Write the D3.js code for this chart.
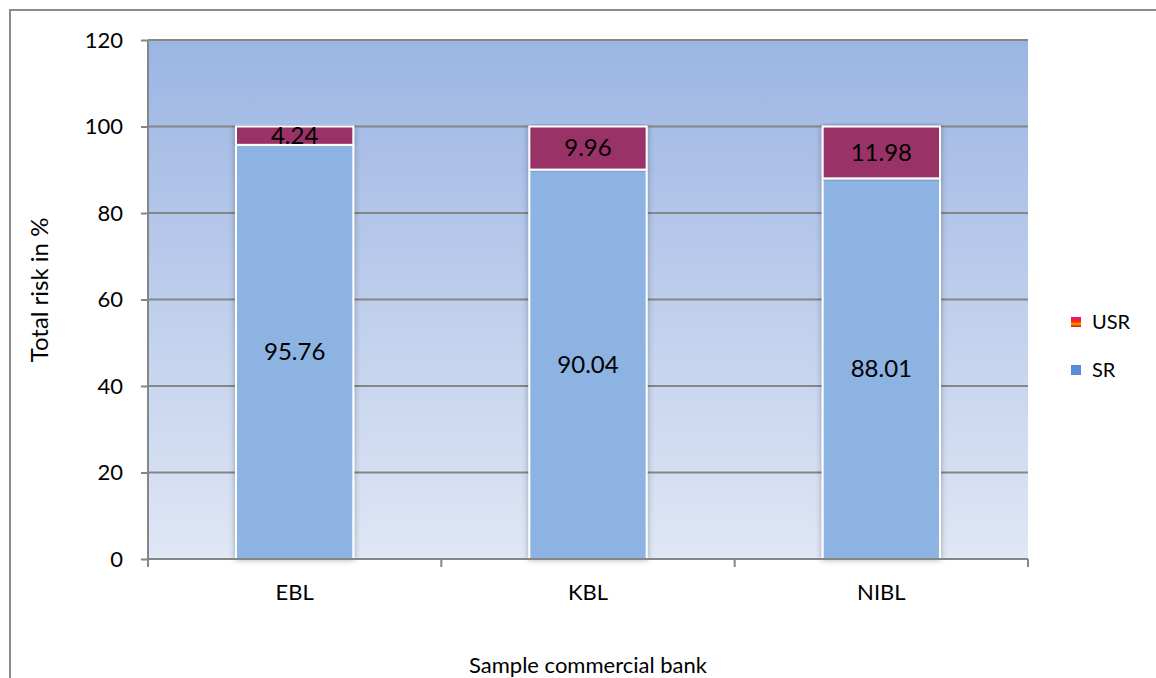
<!DOCTYPE html>
<html>
<head>
<meta charset="utf-8">
<script src="https://cdn.jsdelivr.net/npm/d3@7"></script>
<style>
  body { margin: 0; background: #fff; }
  text { font-family: Lato, "Open Sans", sans-serif; fill: #000; }
</style>
</head>
<body>
<svg id="chart" width="1156" height="678"></svg>
<script>
// data
var banks = ["EBL", "KBL", "NIBL"];
var srValues = [95.76, 90.04, 88.01];
var usrValues = [4.24, 9.96, 11.98];
var yTicks = [0, 20, 40, 60, 80, 100, 120];
var seriesNames = ["SR", "USR"];

var svg = d3.select("#chart");
var margin = { left: 148, top: 40, right: 1028, bottom: 559 };

// outer chart border (only top and left visible)
svg.append("path")
  .attr("d", "M10,678 L10,10 L1156,10")
  .attr("fill", "none")
  .attr("stroke", "#8c8c8c")
  .attr("stroke-width", 2);

var defs = svg.append("defs");
var bg = defs.append("linearGradient").attr("id", "bg")
  .attr("x1", 0).attr("y1", 0).attr("x2", 0).attr("y2", 1);
bg.append("stop").attr("offset", "0%").attr("stop-color", "#9bb5e3");
bg.append("stop").attr("offset", "100%").attr("stop-color", "#e0e7f5");

var usrSwatch = defs.append("linearGradient").attr("id", "usrSwatch")
  .attr("x1", 0).attr("y1", 0).attr("x2", 0).attr("y2", 1);
usrSwatch.append("stop").attr("offset", "0%").attr("stop-color", "#e0148c");
usrSwatch.append("stop").attr("offset", "45%").attr("stop-color", "#ff2a00");
usrSwatch.append("stop").attr("offset", "70%").attr("stop-color", "#ff9a00");
usrSwatch.append("stop").attr("offset", "100%").attr("stop-color", "#d01010");

var shadow = defs.append("filter").attr("id", "shadow")
  .attr("x", "-20%").attr("y", "-5%").attr("width", "140%").attr("height", "110%");
shadow.append("feDropShadow")
  .attr("dx", 0).attr("dy", 0).attr("stdDeviation", 3)
  .attr("flood-color", "#000").attr("flood-opacity", 0.3);

var x = d3.scaleBand().domain(banks).range([margin.left, margin.right]).paddingInner(0).paddingOuter(0);
var y = d3.scaleLinear().domain([0, 120]).range([margin.bottom, margin.top]);

// plot background
svg.append("rect")
  .attr("x", margin.left).attr("y", margin.top)
  .attr("width", margin.right - margin.left)
  .attr("height", margin.bottom - margin.top)
  .attr("fill", "url(#bg)");

// gridlines
svg.append("g").selectAll("line").data(yTicks.slice(1)).enter().append("line")
  .attr("x1", margin.left).attr("x2", margin.right)
  .attr("y1", function (d) { return y(d); })
  .attr("y2", function (d) { return y(d); })
  .attr("stroke", "#868686").attr("stroke-width", 2);

// stacked bars
var rows = banks.map(function (b, i) { return { bank: b, SR: srValues[i], USR: usrValues[i] }; });
var stack = d3.stack().keys(seriesNames)(rows);
var colors = { SR: "#8db3e2", USR: "#993366" };
var barW = x.bandwidth() * 0.4;

var layers = svg.append("g").selectAll("g").data(stack).enter().append("g");
layers.selectAll("rect").data(function (d) { return d.map(function (p) { p.key = d.key; return p; }); })
  .enter().append("rect")
  .attr("x", function (d) { return x(d.data.bank) + (x.bandwidth() - barW) / 2; })
  .attr("y", function (d) { return y(d[1]); })
  .attr("width", barW)
  .attr("height", function (d) { return y(d[0]) - y(d[1]); })
  .attr("fill", function (d) { return colors[d.key]; })
  .attr("stroke", "#fff").attr("stroke-width", 2)
  .attr("filter", "url(#shadow)");

// data labels
layers.selectAll("text").data(function (d) { return d.map(function (p) { p.key = d.key; return p; }); })
  .enter().append("text")
  .attr("x", function (d) { return x(d.data.bank) + x.bandwidth() / 2; })
  .attr("y", function (d) { return (y(d[0]) + y(d[1])) / 2; })
  .attr("dy", "0.35em")
  .attr("text-anchor", "middle")
  .style("font-size", "24px")
  .text(function (d) { return d.data[d.key].toFixed(2); });

// y axis
var yAxis = svg.append("g")
  .attr("transform", "translate(" + margin.left + ",0)")
  .call(d3.axisLeft(y).tickValues(yTicks).tickSize(7).tickPadding(18));
yAxis.select(".domain").attr("stroke", "#868686").attr("stroke-width", 2).attr("d", "M0," + margin.bottom + "V" + margin.top);
yAxis.selectAll(".tick line").attr("stroke", "#868686").attr("stroke-width", 2);
yAxis.selectAll(".tick text").style("font-size", "22px").style("font-family", "Lato, 'Open Sans', sans-serif").attr("fill", "#000");

// x axis
var xAxis = svg.append("g")
  .attr("transform", "translate(0," + margin.bottom + ")")
  .call(d3.axisBottom(x).tickSize(0).tickPadding(25));
xAxis.select(".domain").attr("stroke", "#868686").attr("stroke-width", 2).attr("d", "M" + margin.left + ",0H" + margin.right);
xAxis.selectAll(".tick text").style("font-size", "22px").style("font-family", "Lato, 'Open Sans', sans-serif").attr("fill", "#000");
var bounds = [margin.left].concat(banks.map(function (b) { return x(b) + x.bandwidth(); }));
xAxis.selectAll(".bound").data(bounds).enter().append("line")
  .attr("x1", function (d) { return d; }).attr("x2", function (d) { return d; })
  .attr("y1", 0).attr("y2", 8)
  .attr("stroke", "#868686").attr("stroke-width", 2);

// axis titles
svg.append("text")
  .attr("transform", "translate(40,290) rotate(-90)")
  .attr("text-anchor", "middle").attr("dy", "0.35em")
  .style("font-size", "24px")
  .text("Total risk in %");
svg.append("text")
  .attr("x", 588).attr("y", 665).attr("dy", "0.35em")
  .attr("text-anchor", "middle")
  .style("font-size", "22px")
  .text("Sample commercial bank");

// legend
var legendItems = [
  { name: "USR", fill: "url(#usrSwatch)", cy: 322 },
  { name: "SR", fill: "#558ed5", cy: 370 }
];
var lg = svg.append("g").selectAll("g").data(legendItems).enter().append("g");
lg.append("rect")
  .attr("x", 1071).attr("y", function (d) { return d.cy - 5; })
  .attr("width", 10).attr("height", 10)
  .attr("fill", function (d) { return d.fill; });
lg.append("text")
  .attr("x", 1092).attr("y", function (d) { return d.cy; }).attr("dy", "0.35em")
  .style("font-size", "20px")
  .text(function (d) { return d.name; });
</script>
</body>
</html>
